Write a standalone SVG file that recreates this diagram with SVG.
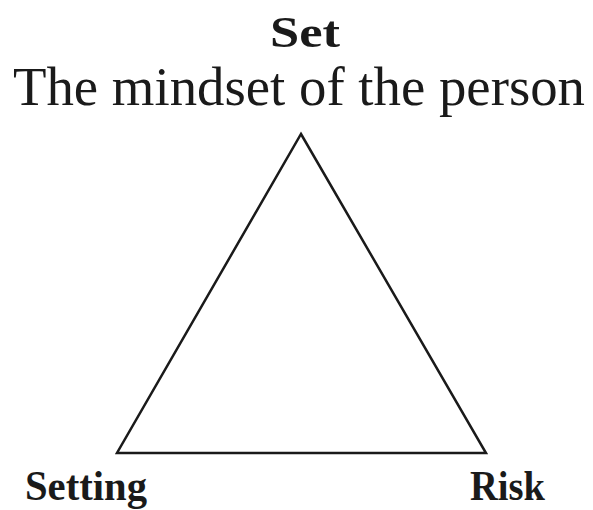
<svg xmlns="http://www.w3.org/2000/svg" width="593" height="510" viewBox="0 0 593 510">
<style>
.lbl{font-family:"Liberation Serif","Times New Roman",serif;fill:#1a1a1a;}
.b{font-weight:bold;font-size:45px;}
.bs{font-weight:bold;font-size:42px;}
.r{font-size:55px;}
.edge{fill:none;stroke:#1a1a1a;stroke-width:2.5;stroke-linejoin:miter;}
</style>
<rect width="593" height="510" fill="#ffffff"/>
<g id="connectors">
<path class="edge" d="M301,134 L486,453 L117,453 Z"/>
</g>
<g id="set">
<text class="lbl b" x="270" y="47" textLength="70" lengthAdjust="spacingAndGlyphs">Set</text>
<text class="lbl r" x="13" y="105" textLength="572" lengthAdjust="spacingAndGlyphs">The mindset of the person</text>
</g>
<g id="setting">
<text class="lbl bs" x="25" y="500" textLength="122" lengthAdjust="spacingAndGlyphs">Setting</text>
</g>
<g id="risk">
<text class="lbl bs" x="470" y="500" textLength="75" lengthAdjust="spacingAndGlyphs">Risk</text>
</g>
</svg>
